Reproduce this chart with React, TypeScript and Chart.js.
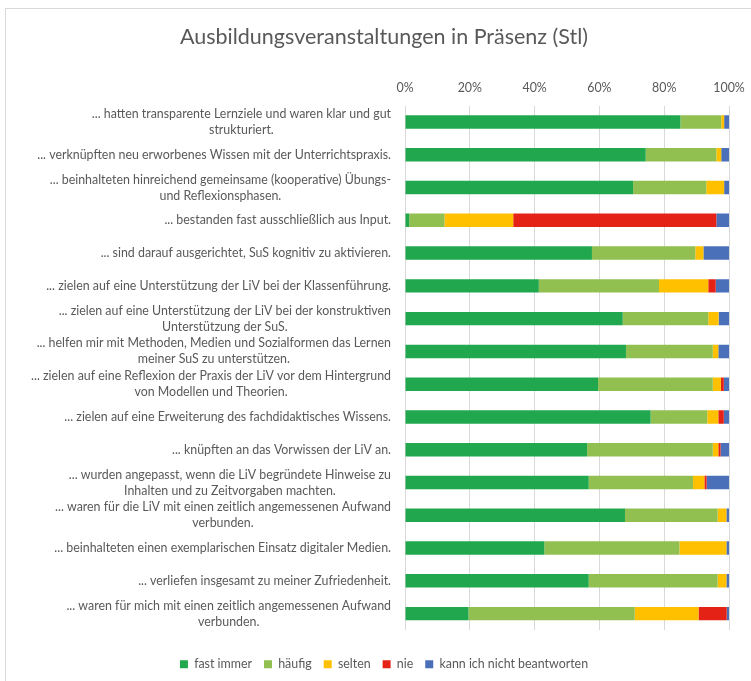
import React, { useEffect, useRef } from "react";
import { Chart, registerables } from "chart.js";

Chart.register(...registerables);

const TITLE = "Ausbildungsveranstaltungen in Präsenz (Stl)";

const categories: string[][] = [
  ["... hatten transparente Lernziele und waren klar und gut", "strukturiert."],
  ["... verknüpften neu erworbenes Wissen mit der Unterrichtspraxis."],
  ["... beinhalteten hinreichend gemeinsame (kooperative) Übungs-", "und Reflexionsphasen."],
  ["... bestanden fast ausschließlich aus Input."],
  ["... sind darauf ausgerichtet, SuS kognitiv zu aktivieren."],
  ["... zielen auf eine Unterstützung der LiV bei der Klassenführung."],
  ["... zielen auf eine Unterstützung der LiV bei der konstruktiven", "Unterstützung der SuS."],
  ["... helfen mir mit Methoden, Medien und Sozialformen das Lernen", "meiner SuS zu unterstützen."],
  ["... zielen auf eine Reflexion der Praxis der LiV vor dem Hintergrund", "von Modellen und Theorien."],
  ["... zielen auf eine Erweiterung des fachdidaktisches Wissens."],
  ["... knüpften an das Vorwissen der LiV an."],
  ["... wurden angepasst, wenn die LiV begründete Hinweise zu", "Inhalten und zu Zeitvorgaben machten."],
  ["... waren für die LiV mit einen zeitlich angemessenen Aufwand", "verbunden."],
  ["... beinhalteten einen exemplarischen Einsatz digitaler Medien."],
  ["... verliefen insgesamt zu meiner Zufriedenheit."],
  ["... waren für mich mit einen zeitlich angemessenen Aufwand", "verbunden."],
];

const seriesNames = ["fast immer", "häufig", "selten", "nie", "kann ich nicht beantworten"];
const seriesColors = ["#21A84F", "#92C050", "#FFC000", "#E42316", "#4A70BA"];

const fastImmer = [85.0, 74.3, 70.4, 1.3, 57.7, 41.3, 67.2, 68.2, 59.6, 75.8, 56.2, 56.7, 67.9, 43.0, 56.7, 19.6];
const haeufig = [12.6, 21.8, 22.6, 10.9, 31.9, 37.1, 26.4, 26.8, 35.4, 17.5, 38.8, 32.2, 28.6, 41.7, 39.8, 51.3];
const selten = [0.9, 1.5, 5.5, 21.2, 2.5, 15.2, 3.2, 1.7, 2.5, 3.4, 1.7, 3.5, 2.7, 14.5, 2.7, 19.7];
const nie = [0, 0, 0, 62.7, 0, 2.3, 0, 0, 0.9, 1.7, 0.7, 0.7, 0, 0, 0, 8.7];
const kannNicht = [1.5, 2.4, 1.5, 3.9, 7.9, 4.1, 3.2, 3.3, 1.6, 1.6, 2.6, 6.9, 0.8, 0.8, 0.8, 0.7];

const xTicks = [0, 20, 40, 60, 80, 100];

const TEXT = "#595959";
const GRID = "#D9D9D9";
const FONT = "Lato, 'Open Sans', sans-serif";

const catLabelPlugin = {
  id: "catLabels",
  afterDraw(chart: any) {
    const ctx = chart.ctx as CanvasRenderingContext2D;
    const yScale = chart.scales.y;
    const right = chart.chartArea.left - 14;
    ctx.save();
    ctx.font = `12.4px ${FONT}`;
    ctx.fillStyle = TEXT;
    ctx.textBaseline = "middle";
    ctx.textAlign = "center";
    const lh = 16;
    categories.forEach((lines, i) => {
      const yc = yScale.getPixelForValue(i);
      const w = Math.max(...lines.map((l) => ctx.measureText(l).width));
      const cx = right - w / 2;
      lines.forEach((l, j) => {
        ctx.fillText(l, cx, yc + (j - (lines.length - 1) / 2) * lh);
      });
    });
    ctx.restore();
  },
};

export default function App() {
  const ref = useRef<HTMLCanvasElement | null>(null);
  useEffect(() => {
    if (!ref.current) return;
    const data = [fastImmer, haeufig, selten, nie, kannNicht];
    const chart = new Chart(ref.current, {
      type: "bar",
      data: {
        labels: categories.map((c) => c.join(" ")),
        datasets: seriesNames.map((name, i) => ({
          label: name,
          data: data[i],
          backgroundColor: seriesColors[i],
          borderWidth: 0,
          barPercentage: 0.41,
          categoryPercentage: 1,
        })),
      },
      options: {
        indexAxis: "y",
        animation: false,
        responsive: false,
        maintainAspectRatio: false,
        layout: { padding: { left: 39, right: 39, top: 0, bottom: 0.6 } },
        plugins: {
          title: {
            display: true,
            text: TITLE,
            color: TEXT,
            font: { family: FONT, size: 21.5, weight: "normal", lineHeight: 1.2 },
            padding: { top: 24.1, bottom: 9 },
          },
          legend: {
            position: "bottom",
            title: { display: true, text: "", font: { size: 10 }, padding: { top: 0, bottom: 4 } },
            labels: {
              boxWidth: 8,
              boxHeight: 8,
              padding: 12,
              color: TEXT,
              font: { family: FONT, size: 12.4 },
            },
          },
          tooltip: { enabled: false },
        },
        scales: {
          x: {
            position: "top",
            stacked: true,
            min: 0,
            max: 100,
            afterBuildTicks: (scale: any) => {
              scale.ticks = xTicks.map((v) => ({ value: v }));
            },
            afterFit: (scale: any) => {
              scale.height = 46.7;
            },
            ticks: {
              color: TEXT,
              font: { family: FONT, size: 12.4 },
              padding: 10,
              callback: (v: any) => v + "%",
            },
            grid: { color: GRID, drawTicks: false, lineWidth: 1 },
            border: { display: false },
          },
          y: {
            stacked: true,
            afterFit: (scale: any) => {
              scale.width = 366;
            },
            ticks: { display: false },
            grid: { display: false, drawTicks: false },
            border: { display: false },
          },
        },
      },
      plugins: [catLabelPlugin],
    } as any);
    return () => chart.destroy();
  }, []);

  return (
    <div
      style={{
        position: "fixed",
        left: 0,
        top: 0,
        width: 751,
        height: 681,
        overflow: "hidden",
        background: "#fff",
      }}
    >
      <canvas ref={ref} width={768} height={681} style={{ position: "absolute", left: 0, top: 0, width: 768, height: 681 }} />
      <div
        style={{
          position: "absolute",
          left: 5,
          top: 8,
          width: 800,
          height: 700,
          border: `1px solid ${GRID}`,
          pointerEvents: "none",
        }}
      />
    </div>
  );
}
